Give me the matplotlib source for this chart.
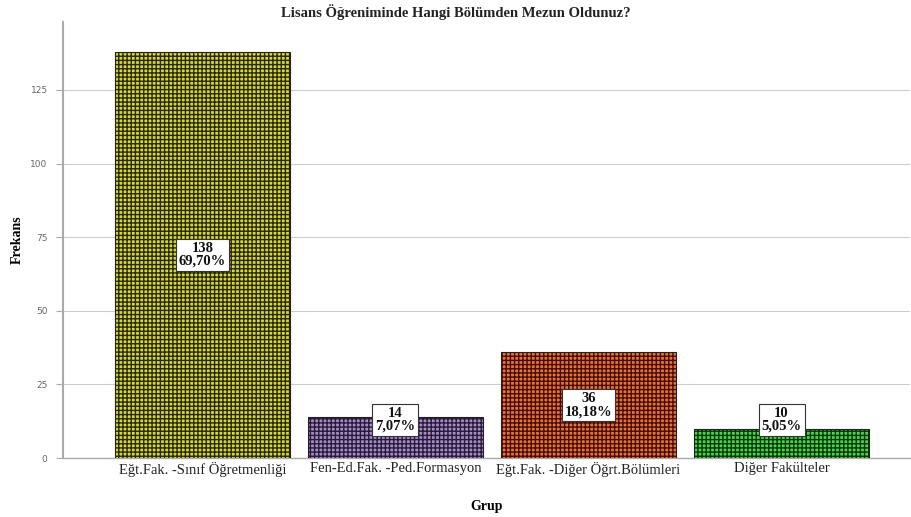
import matplotlib
matplotlib.use("Agg")
import matplotlib.pyplot as plt

categories = ["Eğt.Fak. -Sınıf Öğretmenliği", "Fen-Ed.Fak. -Ped.Formasyon",
              "Eğt.Fak. -Diğer Öğrt.Bölümleri", "Diğer Fakülteler"]
counts = [138, 14, 36, 10]
percents = ["69,70%", "7,07%", "18,18%", "5,05%"]
light_colors = ["#d6d642", "#a48cc4", "#e2743e", "#52d052"]
dark_colors = ["#2a2a00", "#2a1a3a", "#4a0c00", "#003a00"]
yticks = [0, 25, 50, 75, 100, 125]

plt.rcParams['hatch.linewidth'] = 1.0

fig = plt.figure(figsize=(9.11, 5.17), dpi=100)
ax = fig.add_axes([0.069, 0.114, 0.93, 0.843])

x = list(range(len(categories)))
for i in x:
    ax.bar(i, counts[i], width=0.907, color=light_colors[i], edgecolor=dark_colors[i],
           hatch='++++', linewidth=0, zorder=3)
ax.bar(x, counts, width=0.907, fill=False, edgecolor="#222222", linewidth=0.8, zorder=4)

for i in x:
    y = max(counts[i] / 2, 13)
    ax.text(i, y, f"{counts[i]}\n{percents[i]}", ha='center', va='center',
            fontsize=10.5, family='Liberation Serif', fontweight='bold', linespacing=1.0,
            color='#111111', zorder=6,
            bbox=dict(boxstyle='square,pad=0.2', facecolor='white', edgecolor='#333333', linewidth=0.8))

ax.set_xlim(-0.723, 3.666)
ax.set_ylim(0, 148)
ax.set_yticks(yticks)
ax.set_yticklabels([str(t) for t in yticks], fontsize=6.5, color='#666666', family='DejaVu Sans')
ax.set_xticks(x)
ax.set_xticklabels(categories, fontsize=10.5, family='Liberation Serif', color='#222222')
ax.tick_params(axis='x', length=0, pad=3)
ax.tick_params(axis='y', length=5, color='#aaaaaa', width=0.8, pad=6)
ax.yaxis.grid(True, color='#cccccc', linewidth=0.8, zorder=0)
ax.set_axisbelow(True)
for s in ['top', 'right']:
    ax.spines[s].set_visible(False)
ax.spines['left'].set_color('#aaaaaa')
ax.spines['bottom'].set_color('#aaaaaa')
ax.spines['left'].set_linewidth(1.5)
ax.spines['bottom'].set_linewidth(1.0)

ax.set_xlabel("Grup", fontsize=10, family='Liberation Serif', fontweight='bold')
ax.xaxis.set_label_coords(0.5, -0.11)
ax.set_ylabel("Frekans", fontsize=10, family='Liberation Serif', fontweight='bold')
ax.yaxis.set_label_coords(-0.054, 0.5)
ax.yaxis.label.set_va('center')
ax.xaxis.label.set_va('center')
fig.text(0.5, 0.977, "Lisans Öğreniminde Hangi Bölümden Mezun Oldunuz?", ha='center', va='center',
         fontsize=10.5, family='Liberation Serif', fontweight='bold', color='#222222')

fig.savefig("out.png", dpi=100)
